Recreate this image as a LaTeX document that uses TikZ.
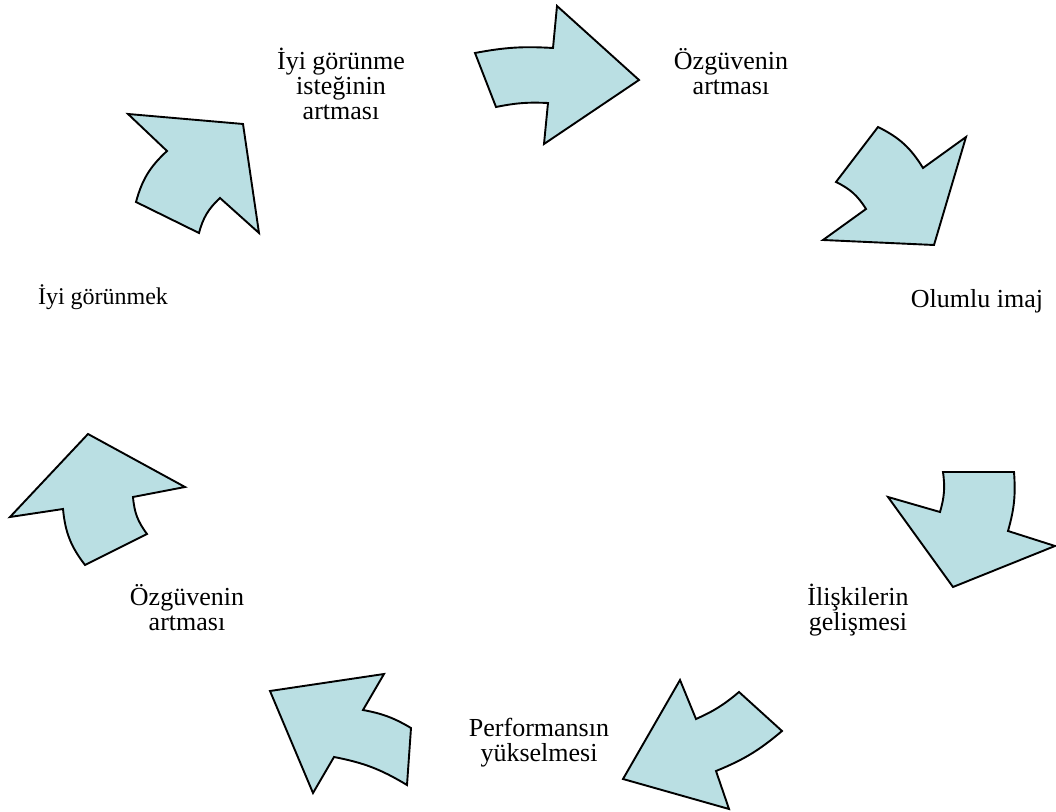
\documentclass[tikz,border=0pt]{standalone}
\usepackage{fontspec}
\setmainfont{Liberation Serif}
\usepackage{xcolor}
\definecolor{cycleFill}{HTML}{BADFE3}
\definecolor{cycleLine}{HTML}{000000}
\usepackage{tikz}
\usetikzlibrary{positioning}
\tikzset{
    cyclearrow/.style={
        draw=cycleLine,
        fill=cycleFill,
        line width=1.9pt,
        line join=miter
    },
    outer/.style={
        bend left=#1
    },
    outer/.default=12,
    inner/.style={
        bend right=#1
    },
    inner/.default=12,
    cycletext/.style={
        align=center,
        inner sep=0pt,
        font=\fontsize{26}{25}\selectfont
    }
}

\begin{document}
\begin{tikzpicture}[x=1pt, y=1pt]
    \useasboundingbox (0,0) rectangle (1056,811);

    % Curved arrows round the cycle
    \draw[cyclearrow] (475,758) to[outer=7] (553,763) -- (557,805) -- (639,731)
        -- (544,667) -- (548,708) to[inner=7] (496,704) -- cycle;
    \draw[cyclearrow] (878,684) to[outer=16] (923,643) -- (966,674) -- (934,566)
        -- (823,571) -- (866,602) to[inner=16] (836,629) -- cycle;
    \draw[cyclearrow] (1014,339) to[outer=10] (1008,280) -- (1055,265) -- (953,224)
        -- (888,314) -- (940,299) to[inner=12] (943,339) -- cycle;
    \draw[cyclearrow] (782,80) to[outer=9] (716,40) -- (729,2) -- (623,32)
        -- (680,131) -- (696,92) to[inner=8] (739,119) -- cycle;
    \draw[cyclearrow] (334,54) to[outer=10] (407,26) -- (411,83) to[inner=10] (363,101)
        -- (384,137) -- (270,120) -- (313,18) -- cycle;
    \draw[cyclearrow] (85,246) to[outer=16] (63,302) -- (10,294) -- (88,377)
        -- (185,324) -- (133,314) to[inner=16] (147,277) -- cycle;
    \draw[cyclearrow] (136,609) to[outer=16] (167,660) -- (128,697) -- (243,687)
        -- (259,578) -- (220,613) to[inner=16] (199,578) -- cycle;

    % Steps of the cycle
    \node[cycletext] (wish) at (341,727) {İyi görünme\\isteğinin\\artması};
    \node[cycletext] (confTop) at (731,739) {Özgüvenin\\artması};
    \node[cycletext, anchor=base] (image) at (977,503) {Olumlu imaj};
    \node[cycletext] (relations) at (858,201) {İlişkilerin\\gelişmesi};
    \node[cycletext] (perform) at (539,68) {Performansın\\yükselmesi};
    \node[cycletext] (confBottom) at (187,203) {Özgüvenin\\artması};
    \node[cycletext, anchor=base, font=\fontsize{24}{25}\selectfont] (looks) at (103,506) {İyi görünmek};
\end{tikzpicture}
\end{document}
